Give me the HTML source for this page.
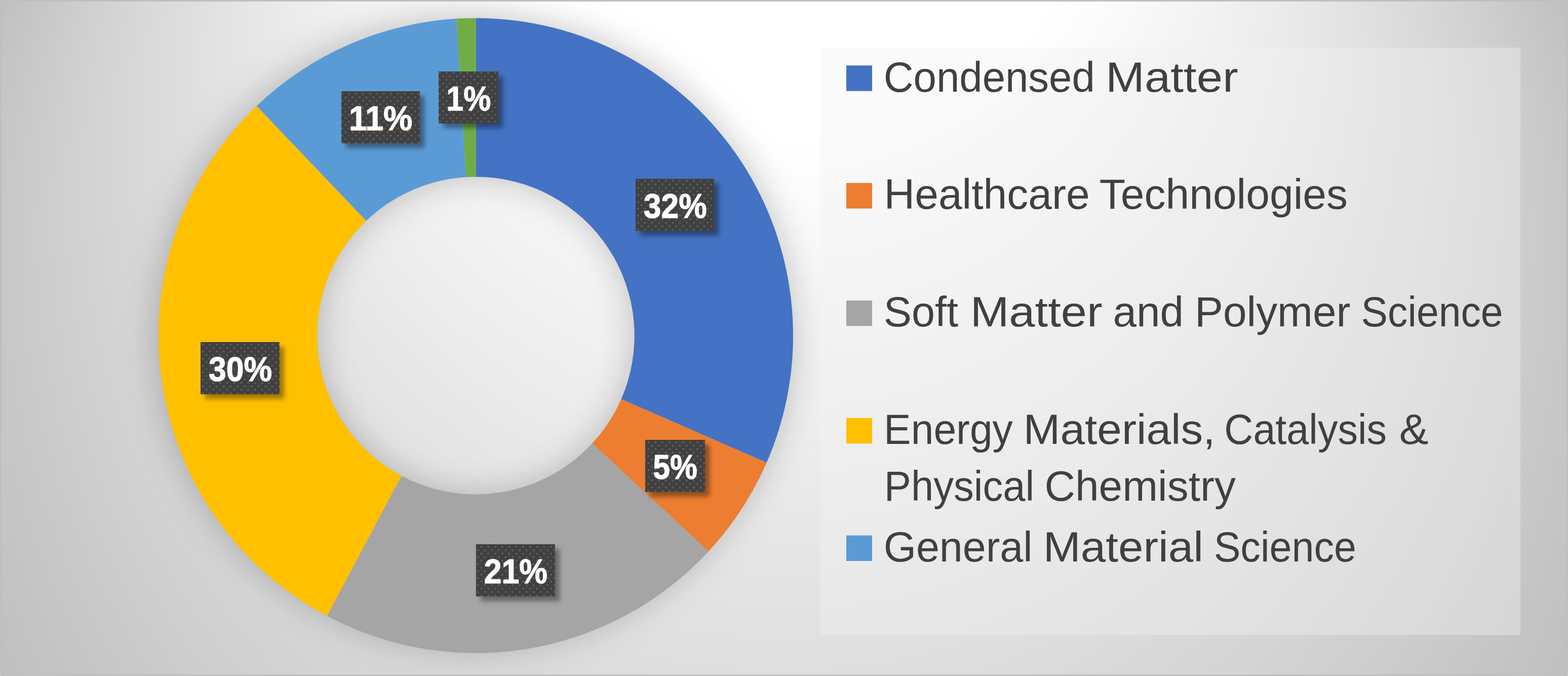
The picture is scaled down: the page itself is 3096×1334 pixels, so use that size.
<!DOCTYPE html>
<html><head><meta charset="utf-8"><title>Research areas</title>
<style>
html,body{margin:0;padding:0;background:#bfbfbf;}
body{width:3096px;height:1334px;overflow:hidden;}
svg{display:block;}
.dl{font-family:"Liberation Sans",sans-serif;font-weight:bold;font-size:67.8px;fill:#fff;stroke:#fff;stroke-width:1.2px;stroke-linejoin:round;}
.lg{font-family:"Liberation Sans",sans-serif;font-size:84px;fill:#404040;}
</style></head><body>
<svg width="3096" height="1334" viewBox="0 0 3096 1334">
<defs>
<filter id="ds" filterUnits="userSpaceOnUse" x="0" y="-200" width="1900" height="1800"><feGaussianBlur stdDeviation="32"/></filter>
<filter id="ls" filterUnits="userSpaceOnUse" x="300" y="100" width="1200" height="1150"><feGaussianBlur stdDeviation="4.8"/></filter>
<pattern id="pat" patternUnits="userSpaceOnUse" width="13.75" height="13.75" x="-0.1" y="4.65">
<rect width="13.75" height="13.75" fill="#404040"/>
<rect x="0" y="0" width="3.6" height="3.4" fill="#5e5e5e"/><rect x="6.875" y="6.875" width="3.6" height="3.4" fill="#5e5e5e"/>
</pattern>
</defs>
<rect width="3096" height="1334" fill="#bfbfbf"/>
<g><circle cx="1548" cy="658.7" r="1677.6" fill="#c0c0c0"/><circle cx="1548" cy="642.2" r="1661.5" fill="#c1c1c1"/><circle cx="1548" cy="625.7" r="1645.4" fill="#c2c2c2"/><circle cx="1548" cy="609.1" r="1629.4" fill="#c3c3c3"/><circle cx="1548" cy="592.6" r="1613.3" fill="#c4c4c4"/><circle cx="1548" cy="576.1" r="1597.2" fill="#c5c5c5"/><circle cx="1548" cy="559.6" r="1581.2" fill="#c6c6c6"/><circle cx="1548" cy="543.0" r="1565.1" fill="#c7c7c7"/><circle cx="1548" cy="526.5" r="1549.0" fill="#c8c8c8"/><circle cx="1548" cy="510.0" r="1533.0" fill="#c9c9c9"/><circle cx="1548" cy="493.4" r="1516.9" fill="#cacaca"/><circle cx="1548" cy="476.9" r="1500.8" fill="#cbcbcb"/><circle cx="1548" cy="460.4" r="1484.8" fill="#cccccc"/><circle cx="1548" cy="443.9" r="1468.7" fill="#cdcdcd"/><circle cx="1548" cy="427.3" r="1452.6" fill="#cecece"/><circle cx="1548" cy="410.8" r="1436.6" fill="#cfcfcf"/><circle cx="1548" cy="394.3" r="1420.5" fill="#d0d0d0"/><circle cx="1548" cy="377.7" r="1404.4" fill="#d1d1d1"/><circle cx="1548" cy="361.2" r="1388.4" fill="#d2d2d2"/><circle cx="1548" cy="344.7" r="1372.3" fill="#d3d3d3"/><circle cx="1548" cy="328.2" r="1356.2" fill="#d4d4d4"/><circle cx="1548" cy="311.6" r="1340.2" fill="#d5d5d5"/><circle cx="1548" cy="295.1" r="1324.1" fill="#d6d6d6"/><circle cx="1548" cy="278.6" r="1308.0" fill="#d7d7d7"/><circle cx="1548" cy="262.0" r="1292.0" fill="#d8d8d8"/><circle cx="1548" cy="245.5" r="1275.9" fill="#d9d9d9"/><circle cx="1548" cy="229.0" r="1259.8" fill="#dadada"/><circle cx="1548" cy="212.4" r="1243.8" fill="#dbdbdb"/><circle cx="1548" cy="195.9" r="1227.7" fill="#dcdcdc"/><circle cx="1548" cy="179.4" r="1211.6" fill="#dddddd"/><circle cx="1548" cy="162.9" r="1195.6" fill="#dedede"/><circle cx="1548" cy="146.3" r="1179.5" fill="#dfdfdf"/><circle cx="1548" cy="129.8" r="1163.4" fill="#e0e0e0"/><circle cx="1548" cy="113.3" r="1147.4" fill="#e1e1e1"/><circle cx="1548" cy="96.7" r="1131.3" fill="#e2e2e2"/><circle cx="1548" cy="80.2" r="1115.3" fill="#e3e3e3"/><circle cx="1548" cy="63.7" r="1099.2" fill="#e4e4e4"/><circle cx="1548" cy="47.2" r="1083.1" fill="#e5e5e5"/><circle cx="1548" cy="30.6" r="1067.1" fill="#e6e6e6"/><circle cx="1548" cy="14.1" r="1051.0" fill="#e7e7e7"/><circle cx="1548" cy="-2.4" r="1034.9" fill="#e8e8e8"/><circle cx="1548" cy="-19.0" r="1018.9" fill="#e9e9e9"/><circle cx="1548" cy="-35.5" r="1002.8" fill="#eaeaea"/><circle cx="1548" cy="-52.0" r="986.7" fill="#ebebeb"/><circle cx="1548" cy="-68.5" r="970.7" fill="#ececec"/><circle cx="1548" cy="-85.1" r="954.6" fill="#ededed"/><circle cx="1548" cy="-101.6" r="938.5" fill="#eeeeee"/><circle cx="1548" cy="-118.1" r="922.5" fill="#efefef"/><circle cx="1548" cy="-134.7" r="906.4" fill="#f0f0f0"/><circle cx="1548" cy="-151.2" r="890.3" fill="#f1f1f1"/><circle cx="1548" cy="-167.7" r="874.3" fill="#f2f2f2"/><circle cx="1548" cy="-184.2" r="858.2" fill="#f3f3f3"/><circle cx="1548" cy="-200.8" r="842.1" fill="#f4f4f4"/><circle cx="1548" cy="-217.3" r="826.1" fill="#f5f5f5"/><circle cx="1548" cy="-233.8" r="810.0" fill="#f6f6f6"/><circle cx="1548" cy="-250.4" r="793.9" fill="#f7f7f7"/><circle cx="1548" cy="-266.9" r="777.9" fill="#f8f8f8"/><circle cx="1548" cy="-283.4" r="761.8" fill="#f9f9f9"/><circle cx="1548" cy="-300.0" r="745.7" fill="#fafafa"/><circle cx="1548" cy="-316.5" r="729.7" fill="#fbfbfb"/><circle cx="1548" cy="-333.0" r="713.6" fill="#fcfcfc"/><circle cx="1548" cy="-349.5" r="697.5" fill="#fdfdfd"/><circle cx="1548" cy="-366.1" r="681.5" fill="#fefefe"/><circle cx="1548" cy="-382.6" r="665.4" fill="#ffffff"/></g>
<g filter="url(#ds)"><path fill="#000" fill-opacity="0.2" fill-rule="evenodd" d="M304.60 656.20a632.35 628.90 0 1 0 1264.70 0a632.35 628.90 0 1 0 -1264.70 0zM630.25 662.20a309.25 309.25 0 1 0 618.50 0a309.25 309.25 0 1 0 -618.50 0z"/></g>
<g><path d="M939.50 35.70A626.5 626.5 0 0 1 1513.64 912.94L1226.57 787.57A313.25 313.25 0 0 0 939.50 348.95Z" fill="#4472C4"/><path d="M1513.64 912.94A626.5 626.5 0 0 1 1399.07 1087.99L1169.28 875.10A313.25 313.25 0 0 0 1226.57 787.57Z" fill="#ED7D31"/><path d="M1399.07 1087.99A626.5 626.5 0 0 1 645.75 1215.57L792.63 938.88A313.25 313.25 0 0 0 1169.28 875.10Z" fill="#A5A5A5"/><path d="M645.75 1215.57A626.5 626.5 0 0 1 506.75 209.18L723.12 435.69A313.25 313.25 0 0 0 792.63 938.88Z" fill="#FFC000"/><path d="M506.75 209.18A626.5 626.5 0 0 1 901.31 36.87L920.40 349.53A313.25 313.25 0 0 0 723.12 435.69Z" fill="#5B9BD5"/><path d="M901.31 36.87A626.5 626.5 0 0 1 939.50 35.70L939.50 348.95A313.25 313.25 0 0 0 920.40 349.53Z" fill="#70AD47"/></g>
<g filter="url(#ls)"><g transform="translate(9.2 9.2)" fill="#000" fill-opacity="0.38"><rect x="1255.0" y="352.9" width="155.1" height="103.1"/><rect x="1273.9" y="868.0" width="118.2" height="102.8"/><rect x="939.9" y="1074.0" width="156.0" height="102.9"/><rect x="396.0" y="675.0" width="155.9" height="103.0"/><rect x="674.0" y="180.0" width="155.0" height="102.9"/><rect x="866.0" y="141.1" width="118.1" height="102.6"/></g></g>
<g><rect x="1255.0" y="352.9" width="155.1" height="103.1" fill="url(#pat)"/><text class="dl" transform="translate(1270.67 430.20) scale(0.9214 1)">32%</text><rect x="1273.9" y="868.0" width="118.2" height="102.8" fill="url(#pat)"/><text class="dl" transform="translate(1289.32 945.30) scale(0.8933 1)">5%</text><rect x="939.9" y="1074.0" width="156.0" height="102.9" fill="url(#pat)"/><text class="dl" transform="translate(955.68 1151.30) scale(0.9235 1)">21%</text><rect x="396.0" y="675.0" width="155.9" height="103.0" fill="url(#pat)"/><text class="dl" transform="translate(412.07 752.30) scale(0.9221 1)">30%</text><rect x="674.0" y="180.0" width="155.0" height="102.9" fill="url(#pat)"/><text class="dl" transform="translate(689.10 257.30) scale(0.9491 1)">11%</text><rect x="866.0" y="141.1" width="118.1" height="102.6" fill="url(#pat)"/><text class="dl" transform="translate(881.32 218.40) scale(0.8975 1)">1%</text></g>
<rect x="1620" y="94" width="1382" height="1159" fill="#f2f2f2" fill-opacity="0.39"/>
<g><rect x="1671" y="129.2" width="51" height="50.4" fill="#4472C4"/><text class="lg" transform="translate(1744.75 180.60) scale(0.9706 1)">Condensed</text><text class="lg" transform="translate(2183.02 180.60) scale(1.0997 1)">Matter</text><rect x="1671" y="361.1" width="51" height="50.4" fill="#ED7D31"/><text class="lg" transform="translate(1745.50 412.45) scale(1.0002 1)">Healthcare</text><text class="lg" transform="translate(2170.81 412.45) scale(0.9998 1)">Technologies</text><rect x="1671" y="592.9" width="51" height="50.4" fill="#A5A5A5"/><text class="lg" transform="translate(1744.77 644.30) scale(0.9852 1)">Soft</text><text class="lg" transform="translate(1915.64 644.30) scale(1.0963 1)">Matter</text><text class="lg" transform="translate(2197.43 644.30) scale(0.9960 1)">and</text><text class="lg" transform="translate(2359.02 644.30) scale(0.9983 1)">Polymer</text><text class="lg" transform="translate(2687.55 644.30) scale(0.9372 1)">Science</text><rect x="1671" y="824.8" width="51" height="50.4" fill="#FFC000"/><text class="lg" transform="translate(1745.10 876.15) scale(0.9571 1)">Energy</text><text class="lg" transform="translate(2020.62 876.15) scale(1.0409 1)">Materials,</text><text class="lg" transform="translate(2417.27 876.15) scale(0.9415 1)">Catalysis</text><text class="lg" transform="translate(2762.64 876.15) scale(1.0319 1)">&amp;</text><text class="lg" transform="translate(1745.87 987.60) scale(0.9472 1)">Physical</text><text class="lg" transform="translate(2062.43 987.60) scale(0.9984 1)">Chemistry</text><rect x="1671" y="1056.6" width="51" height="50.4" fill="#5B9BD5"/><text class="lg" transform="translate(1744.63 1108.00) scale(0.9839 1)">General</text><text class="lg" transform="translate(2059.70 1108.00) scale(1.0587 1)">Material</text><text class="lg" transform="translate(2396.64 1108.00) scale(0.9413 1)">Science</text></g>
<rect x="1.5" y="1.5" width="3093" height="1331" fill="none" stroke="#bfbfbf" stroke-width="3"/>
<path d="M0 0h1v1h-1zM3095 0h1v1h-1zM0 1333h1v1h-1zM3095 1333h1v1h-1z" fill="#f4f4f4"/>
</svg>
</body></html>
